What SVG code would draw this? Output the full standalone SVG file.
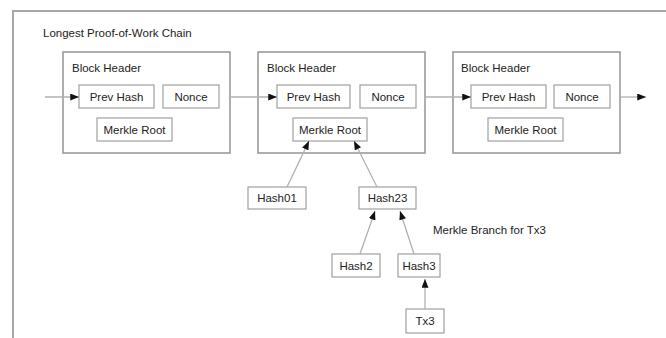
<svg xmlns="http://www.w3.org/2000/svg" width="666" height="338" viewBox="0 0 666 338">
<defs>
<marker id="ah" viewBox="0 0 10 8" refX="10" refY="4" markerWidth="9" markerHeight="7" markerUnits="userSpaceOnUse" orient="auto">
<path d="M0,0 L10,4 L0,8 Z" fill="#111"/>
</marker>
<style>
.t{font-family:"Liberation Sans",Arial,sans-serif;font-size:11.5px;fill:#222}
.c{text-anchor:middle}
.blk{fill:#fff;stroke:#9a9a9a;stroke-width:1.6}
.box{fill:#fff;stroke:#a0a0a0;stroke-width:1.2}
.ln{fill:none;stroke:#b0b0b0;stroke-width:1.3;marker-end:url(#ah)}
</style>
</defs>
<rect width="666" height="338" fill="#fff"/>
<path d="M13,338 V11 H666" fill="none" stroke="#a8a8a8" stroke-width="2"/>
<text class="t" x="43" y="37">Longest Proof-of-Work Chain</text>

<g id="block1">
<rect class="blk" x="63" y="52" width="167" height="101"/>
<text class="t" x="72" y="72">Block Header</text>
<rect class="box" x="79" y="85" width="75" height="23"/>
<text class="t c" x="116.5" y="100.5">Prev Hash</text>
<rect class="box" x="163" y="85" width="56" height="23"/>
<text class="t c" x="191" y="100.5">Nonce</text>
<rect class="box" x="97" y="118" width="75" height="23"/>
<text class="t c" x="134.5" y="133.5">Merkle Root</text>
</g>

<g id="block2">
<rect class="blk" x="258" y="52" width="167" height="101"/>
<text class="t" x="267" y="72">Block Header</text>
<rect class="box" x="277" y="85" width="73" height="23"/>
<text class="t c" x="313.5" y="100.5">Prev Hash</text>
<rect class="box" x="360" y="85" width="56" height="23"/>
<text class="t c" x="388" y="100.5">Nonce</text>
<rect class="box" x="293" y="118" width="74" height="23"/>
<text class="t c" x="330" y="133.5">Merkle Root</text>
</g>

<g id="block3">
<rect class="blk" x="453" y="52" width="167" height="101"/>
<text class="t" x="461" y="72">Block Header</text>
<rect class="box" x="471" y="85" width="75" height="23"/>
<text class="t c" x="508.5" y="100.5">Prev Hash</text>
<rect class="box" x="554" y="85" width="56" height="23"/>
<text class="t c" x="582" y="100.5">Nonce</text>
<rect class="box" x="488" y="118" width="75" height="23"/>
<text class="t c" x="525.5" y="133.5">Merkle Root</text>
</g>

<g id="hash01">
<rect class="box" x="248" y="187" width="58" height="22"/>
<text class="t c" x="277" y="202">Hash01</text>
</g>
<g id="hash23">
<rect class="box" x="359" y="187" width="57" height="22" stroke="#c4c4c4"/>
<text class="t c" x="387.5" y="202">Hash23</text>
</g>
<g id="hash2">
<rect class="box" x="332" y="254" width="48" height="23"/>
<text class="t c" x="356" y="269.5">Hash2</text>
</g>
<g id="hash3">
<rect class="box" x="398" y="254" width="42" height="23" stroke="#c4c4c4"/>
<text class="t c" x="419" y="269.5">Hash3</text>
</g>
<g id="tx3">
<rect class="box" x="406" y="309" width="38" height="24"/>
<text class="t c" x="425" y="325">Tx3</text>
</g>
<text class="t" x="433" y="234">Merkle Branch for Tx3</text>

<g id="connectors">
<line class="ln" x1="45" y1="97" x2="79" y2="97"/>
<line class="ln" x1="230" y1="97" x2="277" y2="97"/>
<line class="ln" x1="425" y1="97" x2="471" y2="97"/>
<line class="ln" x1="620" y1="97" x2="646" y2="97"/>
<line class="ln" x1="287" y1="187" x2="309" y2="141"/>
<line class="ln" x1="377" y1="187" x2="354" y2="141"/>
<line class="ln" x1="360" y1="254" x2="375" y2="211"/>
<line class="ln" x1="414" y1="254" x2="400" y2="211"/>
<line class="ln" x1="425" y1="309" x2="425" y2="279"/>
</g>
</svg>
